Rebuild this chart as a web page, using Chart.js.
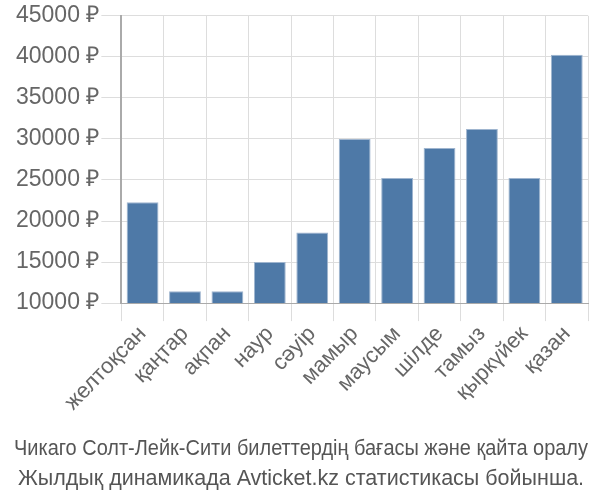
<!DOCTYPE html>
<html lang="kk">
<head>
    <meta charset="UTF-8">
    <title>Chart</title>
    <script src="https://cdn.jsdelivr.net/npm/chart.js"></script>
    <style>
        body{margin:0;background:#fff;}
        #wrap{width:600px;height:500px;}
    </style>
</head>
<body>
    <div id="wrap"><canvas id="myChart"></canvas></div>
    <script>
        // months (Kazakh)
        const months = ['желтоқсан','қаңтар','ақпан','наур','сәуір','мамыр','маусым','шілде','тамыз','қыркүйек','қазан'];
        // price, RUB
        const prices = [22300, 11450, 11450, 15000, 18600, 30000, 25250, 28900, 31200, 25250, 40250];
        const titleLines = ['Чикаго Солт-Лейк-Сити билеттердің бағасы және қайта оралу','Жылдық динамикада Avticket.kz статистикасы бойынша.'];

        Chart.defaults.font.family = '"Liberation Sans", Arial, sans-serif';
        Chart.defaults.color = '#666';

        var ctx = document.querySelector('#myChart').getContext('2d');
        var myChart = new Chart(ctx,{
            type:'bar',
            data:{
                labels:months,
                datasets:[{
                    data:prices,
                    backgroundColor:'#4e79a7',
                    borderColor:'#9fb5cf',
                    borderWidth:1,
                    categoryPercentage:0.75,
                    barPercentage:1
                }]
            },
            options:{
                responsive:true,
                maintainAspectRatio:false,
                animation:false,
                layout:{padding:{top:5,right:12,left:14,bottom:0}},
                plugins:{
                    legend:{display:false},
                    tooltip:{enabled:false},
                    title:{
                        display:true,
                        position:'bottom',
                        text:titleLines,
                        color:'#555',
                        font:{size:21.5,weight:'normal',lineHeight:1.4},
                        padding:{top:8,bottom:6}
                    }
                },
                scales:{
                    x:{
                        grid:{color:'#ddd',tickLength:18,offset:true},
                        border:{color:'#aaa'},
                        ticks:{font:{size:22},autoSkip:false,maxRotation:46,minRotation:46,padding:0,color:'#666'},
                        afterFit:(scale)=>{scale.height += 10;}
                    },
                    y:{
                        min:10000,
                        max:45000,
                        grid:{color:'#ddd',tickLength:20},
                        border:{color:'#aaa',width:2},
                        ticks:{stepSize:5000,font:{size:23},padding:2,color:'#666',
                            callback:v=>v+' ₽'}
                    }
                }
            }
        });
    </script>
</body>
</html>
